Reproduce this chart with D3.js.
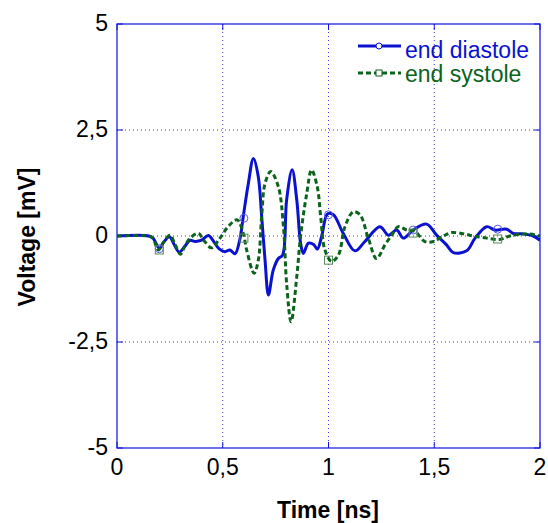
<!DOCTYPE html>
<html><head><meta charset="utf-8">
<script src="https://cdn.jsdelivr.net/npm/d3@7"></script>
<style>body{margin:0;background:#fff}svg{display:block}</style>
</head><body>
<svg id="c" width="548" height="523"></svg>
<script>
const xTicks = [0, 0.5, 1, 1.5, 2];
const xTickLabels = ["0", "0,5", "1", "1,5", "2"];
const yTicks = [-5, -2.5, 0, 2.5, 5];
const yTickLabels = ["-5", "-2,5", "0", "2,5", "5"];
const seriesNames = ["end diastole", "end systole"];

const diastoleT = [0,0.15,0.17,0.2,0.22,0.248,0.27,0.294,0.32,0.345,0.37,0.4,0.432,0.46,0.482,0.51,0.534,0.558,0.58,0.597,0.621,0.645,0.668,0.684,0.7,0.716,0.739,0.763,0.783,0.802,0.828,0.85,0.868,0.881,0.905,0.93,0.947,0.968,0.995,1.023,1.07,1.125,1.172,1.243,1.283,1.322,1.354,1.4,1.464,1.511,1.558,1.59,1.653,1.693,1.748,1.787,1.842,1.874,1.92,1.968,2.0];
const diastoleV = [0,0,-0.05,-0.29,-0.15,-0.02,-0.2,-0.38,-0.25,-0.1,-0.13,-0.1,0.01,-0.15,-0.3,-0.37,-0.33,-0.42,-0.1,0.46,1.24,1.83,1.4,0.46,-0.57,-1.39,-0.8,-0.53,-0.45,0.85,1.56,0.85,-0.17,-0.41,-0.17,-0.2,-0.31,0,0.52,0.5,0.06,-0.35,-0.13,0.22,0.02,0.14,-0.05,0.14,0.28,0.02,-0.21,-0.39,-0.35,-0.05,0.22,0.14,0.16,0.06,0.05,0,-0.1];

const systoleT = [0,0.15,0.17,0.195,0.22,0.25,0.275,0.3,0.32,0.345,0.385,0.41,0.447,0.48,0.527,0.568,0.597,0.613,0.648,0.668,0.684,0.7,0.727,0.763,0.787,0.802,0.823,0.85,0.868,0.897,0.92,0.947,0.963,0.983,1.015,1.047,1.078,1.117,1.149,1.188,1.227,1.267,1.299,1.33,1.37,1.41,1.456,1.496,1.543,1.582,1.64,1.685,1.748,1.81,1.858,1.937,2.0];
const systoleV = [0,0,-0.05,-0.33,-0.15,0.02,-0.2,-0.43,-0.25,-0.05,0.06,-0.1,-0.28,-0.1,0.23,0.38,0.06,-0.33,-0.88,-0.57,0.46,1.24,1.52,1.16,0.22,-1.12,-2.02,-0.96,0,1.0,1.56,1.16,0.46,-0.33,-0.6,-0.45,0.22,0.57,0.5,-0.05,-0.53,-0.21,0.02,0.22,0.14,0.1,-0.13,-0.13,0,0.08,0.05,0,-0.05,-0.08,0,0.05,0];

const markerT = [0.2, 0.6, 1.0, 1.4, 1.8];
const diastoleMarkV = [-0.3, 0.42, 0.5, 0.14, 0.16];
const systoleMarkV = [-0.33, -0.05, -0.57, 0.07, -0.07];

const BLUE = "#0a12d0", GREEN = "#0b631c";
const svg = d3.select("#c");
const L = 117, R = 540, T = 24, B = 448;
const x = d3.scaleLinear().domain([0, 2]).range([L, R]);
const y = d3.scaleLinear().domain([-5, 5]).range([B, T]);
const FONT = "'Liberation Sans', Arial, sans-serif";
const FS = 23;

// grid
const grid = svg.append("g");
grid.selectAll("line.vx").data(xTicks.slice(1, -1)).join("line")
  .attr("x1", d => x(d)).attr("x2", d => x(d)).attr("y1", T).attr("y2", B)
  .attr("stroke", "#3a3ae8").attr("stroke-width", 1).attr("stroke-dasharray", "1,3");
grid.selectAll("line.hy").data(yTicks.slice(1, -1)).join("line")
  .attr("x1", L).attr("x2", R).attr("y1", d => y(d)).attr("y2", d => y(d))
  .attr("stroke", "#3a3ae8").attr("stroke-width", 1).attr("stroke-dasharray", "1,3");

// frame
svg.append("rect").attr("x", L).attr("y", T).attr("width", R - L).attr("height", B - T)
  .attr("fill", "none").attr("stroke", "#1010e0").attr("stroke-width", 1.2);

// ticks (inner)
const tk = svg.append("g").attr("stroke", "#1010e0").attr("stroke-width", 1);
xTicks.forEach(t => {
  tk.append("line").attr("x1", x(t)).attr("x2", x(t)).attr("y1", B).attr("y2", B - 6);
  tk.append("line").attr("x1", x(t)).attr("x2", x(t)).attr("y1", T).attr("y2", T + 6);
});
yTicks.forEach(t => {
  tk.append("line").attr("x1", L).attr("x2", L + 6).attr("y1", y(t)).attr("y2", y(t));
  tk.append("line").attr("x1", R).attr("x2", R - 6).attr("y1", y(t)).attr("y2", y(t));
});

// tick labels
svg.append("g").selectAll("text").data(xTicks).join("text")
  .attr("x", d => x(d)).attr("y", 475).attr("text-anchor", "middle")
  .attr("font-family", FONT).attr("font-size", FS).attr("fill", "#000")
  .text((d, i) => xTickLabels[i]);
svg.append("g").selectAll("text").data(yTicks).join("text")
  .attr("x", 108).attr("y", d => y(d) + 7).attr("text-anchor", "end")
  .attr("font-family", FONT).attr("font-size", FS).attr("fill", "#000")
  .text((d, i) => yTickLabels[i]);

// axis titles
svg.append("text").attr("x", 328).attr("y", 518).attr("text-anchor", "middle")
  .attr("font-family", FONT).attr("font-size", FS).attr("font-weight", "bold").text("Time [ns]");
svg.append("text").attr("transform", "translate(35,237) rotate(-90)").attr("text-anchor", "middle")
  .attr("font-family", FONT).attr("font-size", FS).attr("font-weight", "bold").text("Voltage [mV]");

const line = d3.line().x(d => x(d[0])).y(d => y(d[1])).curve(d3.curveCatmullRom.alpha(0.5));
const dData = diastoleT.map((t, i) => [t, diastoleV[i]]);
const sData = systoleT.map((t, i) => [t, systoleV[i]]);

svg.append("clipPath").attr("id", "pc").append("rect")
  .attr("x", L).attr("y", T).attr("width", R - L).attr("height", B - T);
const plot = svg.append("g").attr("clip-path", "url(#pc)");

plot.append("path").datum(dData).attr("d", line).attr("fill", "none")
  .attr("stroke", BLUE).attr("stroke-width", 3).attr("stroke-linejoin", "round");
plot.append("path").datum(sData).attr("d", line).attr("fill", "none")
  .attr("stroke", GREEN).attr("stroke-width", 3).attr("stroke-dasharray", "5,3");

// markers
plot.selectAll("circle.m").data(markerT).join("circle")
  .attr("cx", d => x(d)).attr("cy", (d, i) => y(diastoleMarkV[i])).attr("r", 4)
  .attr("fill", "none").attr("stroke", "#5a5ae0").attr("stroke-width", 1);
plot.selectAll("rect.m").data(markerT).join("rect")
  .attr("x", d => x(d) - 4).attr("y", (d, i) => y(systoleMarkV[i]) - 4)
  .attr("width", 8).attr("height", 8)
  .attr("fill", "none").attr("stroke", "#5a8a5a").attr("stroke-width", 1);

// legend
const lg = svg.append("g");
lg.append("line").attr("x1", 358).attr("x2", 401).attr("y1", 46).attr("y2", 46)
  .attr("stroke", BLUE).attr("stroke-width", 3);
lg.append("circle").attr("cx", 379).attr("cy", 46).attr("r", 3)
  .attr("fill", "#fff").attr("stroke", BLUE).attr("stroke-width", 1);
lg.append("text").attr("x", 405).attr("y", 58).attr("font-family", FONT).attr("font-size", FS)
  .attr("fill", BLUE).text(seriesNames[0]);
lg.append("line").attr("x1", 358).attr("x2", 401).attr("y1", 73).attr("y2", 73)
  .attr("stroke", GREEN).attr("stroke-width", 3).attr("stroke-dasharray", "5,3");
lg.append("rect").attr("x", 376).attr("y", 70).attr("width", 6).attr("height", 6)
  .attr("fill", "#fff").attr("stroke", GREEN).attr("stroke-width", 1);
lg.append("text").attr("x", 405).attr("y", 82).attr("font-family", FONT).attr("font-size", FS)
  .attr("fill", GREEN).text(seriesNames[1]);
</script>
</body></html>
